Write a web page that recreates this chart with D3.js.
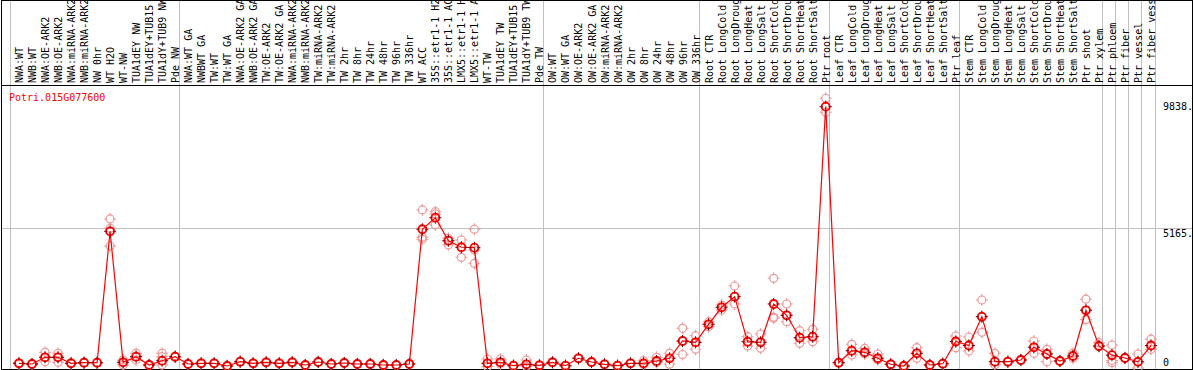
<!DOCTYPE html>
<html>
<head>
<meta charset="utf-8">
<title>Potri.015G077600</title>
<script src="https://d3js.org/d3.v7.min.js"></script>
<style>
  body { margin: 0; background: #fff; }
  text { font-family: "DejaVu Sans Mono", monospace; font-size: 10px; }
</style>
</head>
<body>
<div id="chart"></div>
<script>
// sample labels, left to right
var labels = ["NWA:WT", "NWB:WT", "NWA:OE-ARK2", "NWB:OE-ARK2", "NWA:miRNA-ARK2", "NWB:miRNA-ARK2",
  "NW 0hr", "WT H2O", "WT-NW", "TUA1dEY NW", "TUA1dEY+TUB15 NW", "TUA1dY+TUB9 NW", "Pde NW",
  "NWA:WT GA", "NWBWT GA", "TW:WT", "TW:WT GA", "NWA:OE-ARK2 GA", "NWB:OE-ARK2 GA", "TW:OE-ARK2",
  "TW:OE-ARK2 GA", "NWA:miRNA-ARK2", "NWB:miRNA-ARK2", "TW:miRNA-ARK2", "TW:miRNA-ARK2",
  "TW 2hr", "TW 8hr", "TW 24hr", "TW 48hr", "TW 96hr", "TW 336hr", "WT ACC",
  "35S::etr1-1 H2O", "35S::etr1-1 ACC", "LMX5::etr1-1 H2O", "LMX5::etr1-1 ACC", "WT-TW",
  "TUA1dEY TW", "TUA1dEY+TUB15 TW", "TUA1dY+TUB9 TW", "Pde TW",
  "OW:WT", "OW:WT GA", "OW:OE-ARK2", "OW:OE-ARK2 GA", "OW:miRNA-ARK2", "OW:miRNA-ARK2",
  "OW 2hr", "OW 8hr", "OW 24hr", "OW 48hr", "OW 96hr", "OW 336hr",
  "Root CTR", "Root LongCold", "Root LongDrought", "Root LongHeat", "Root LongSalt",
  "Root ShortCold", "Root ShortDrought", "Root ShortHeat", "Root ShortSalt", "Ptr root",
  "Leaf CTR", "Leaf LongCold", "Leaf LongDrought", "Leaf LongHeat", "Leaf LongSalt",
  "Leaf ShortCold", "Leaf ShortDrought", "Leaf ShortHeat", "Leaf ShortSalt", "Ptr leaf",
  "Stem CTR", "Stem LongCold", "Stem LongDrought", "Stem LongHeat", "Stem LongSalt",
  "Stem ShortCold", "Stem ShortDrought", "Stem ShortHeat", "Stem ShortSalt", "Ptr shoot",
  "Ptr xylem", "Ptr phloem", "Ptr fiber", "Ptr vessel", "Ptr fiber vessel"];

// mean expression per sample
var means = [173, 148, 395, 395, 173, 196, 196, 5044, 210, 417, 111, 269, 417,
  148, 173, 173, 74, 232, 173, 210, 173, 210, 111, 221, 148, 185, 148, 148, 111, 111, 148,
  5118, 5546, 4697, 4454, 4439, 173, 210, 85, 137, 100,
  210, 85, 358, 221, 137, 85, 173, 173, 258, 358, 996, 948,
  1613, 2240, 2631, 970, 948, 2362, 1945, 1118, 1155, 9642,
  196, 638, 579, 358, 137, 74, 542, 111, 159, 978,
  830, 1893, 232, 232, 295, 764, 517, 258, 443, 2129,
  812, 472, 369, 229, 830];

// replicate values per sample
var replicates = [
  [190, 150, 173], [165, 130, 148], [579, 395, 232], [542, 395, 210], [190, 160, 173], [210, 180, 196],
  [205, 185, 196], [5498, 5154, 4501], [295, 210, 111], [542, 417, 295], [125, 100, 111],
  [542, 417, 111], [430, 400, 417], [160, 135, 148], [185, 160, 173], [180, 165, 173], [90, 60, 74],
  [245, 220, 232], [185, 160, 173], [220, 200, 210], [185, 160, 173], [225, 195, 210], [120, 100, 111],
  [235, 210, 221], [160, 135, 148], [200, 170, 185], [160, 135, 148], [165, 130, 148], [125, 100, 111],
  [120, 100, 111], [160, 135, 148], [5830, 4823, 4749], [5768, 5683, 5277], [4786, 4697, 4539],
  [4723, 4454, 4084], [5118, 4354, 3863], [332, 173, 48], [332, 210, 150], [100, 70, 85],
  [295, 137, 60], [115, 85, 100], [225, 195, 210], [100, 70, 85], [375, 340, 358], [235, 205, 221],
  [150, 120, 137], [100, 70, 85], [185, 160, 173], [269, 173, 120], [395, 258, 200], [542, 358, 137],
  [1465, 996, 498], [1192, 948, 690], [1700, 1613, 1524], [2325, 2240, 2140], [3026, 2631, 2362],
  [1155, 970, 812], [1255, 948, 727], [3310, 1871, 1835], [2362, 1945, 1708], [1376, 1118, 911],
  [1428, 1155, 970], [9952, 9642, 9435], [210, 180, 196], [875, 638, 480], [727, 579, 520],
  [517, 358, 300], [150, 120, 137], [90, 60, 74], [749, 542, 358], [125, 100, 111], [170, 145, 159],
  [1181, 978, 749], [1144, 830, 627], [2509, 1893, 1317], [542, 232, 120], [245, 220, 232],
  [310, 280, 295], [996, 764, 542], [690, 517, 232], [270, 245, 258], [542, 443, 358],
  [2538, 2129, 1786], [934, 812, 780], [849, 277, 196], [385, 350, 369], [517, 229, 0],
  [1063, 830, 690]];

// a gray line is drawn before these sample indexes
var groupBreaks = [0, 13, 41, 53, 63, 73, 84, 85, 86, 87, 88];
var yLabels = [9838, 5165, 0];
var geneName = "Potri.015G077600";

var W = 1194, H = 370;
var headerBottom = 85.5, plotBottom = 369.5;

var svg = d3.select("#chart").append("svg")
  .attr("width", W)
  .attr("height", H);

var x = d3.scaleBand()
  .domain(d3.range(labels.length))
  .range([10.5, 1155.5]);
function cx(i) { return x(i) + 8.5; }
function breakX(i) {
  var v = i < labels.length ? x(i) : x.range()[1];
  return Math.round(v) - 0.5;
}

var y = d3.scaleLinear()
  .domain([0, 5165])
  .range([368, 228]);

// group lines, full height
svg.selectAll("line.group")
  .data(groupBreaks)
  .enter()
  .append("line")
  .attr("x1", breakX)
  .attr("x2", breakX)
  .attr("y1", 0)
  .attr("y2", H)
  .style("stroke", "#c0c0c0");

// horizontal grid at 5165
svg.append("line")
  .attr("x1", 1)
  .attr("x2", W - 1)
  .attr("y1", Math.round(y(5165)) + 0.5)
  .attr("y2", Math.round(y(5165)) + 0.5)
  .style("stroke", "#c0c0c0");

// header labels, cut by the header box like the original
svg.append("clipPath").attr("id", "hclip")
  .append("rect").attr("x", 0).attr("y", 1).attr("width", W).attr("height", headerBottom - 1.5);

svg.append("g")
  .attr("clip-path", "url(#hclip)")
  .selectAll("text")
  .data(labels)
  .enter()
  .append("text")
  .attr("transform", function(d, i) { return "translate(" + (cx(i) + 4) + ",83) rotate(-90)"; })
  .style("fill", "#000")
  .text(function(d) { return d; });

// borders
svg.append("rect")
  .attr("x", 1.5).attr("y", 0.5)
  .attr("width", W - 3).attr("height", plotBottom - 0.5)
  .style("fill", "none").style("stroke", "#000");
svg.append("line")
  .attr("x1", 1).attr("x2", W - 1)
  .attr("y1", headerBottom).attr("y2", headerBottom)
  .style("stroke", "#000");

// gene name
svg.append("text")
  .attr("x", 9).attr("y", 101)
  .style("fill", "red")
  .text(geneName);

// y labels
svg.selectAll("text.ylab")
  .data(yLabels)
  .enter()
  .append("text")
  .attr("x", 1163)
  .attr("y", function(d) { return d == 0 ? y(0) - 2 : y(d) + 9; })
  .style("fill", "#000")
  .text(function(d) { return d == 0 ? "0" : d + "."; });

// marker: ring with small ticks
function marker(g, px, py, color, tickColor, sw) {
  g.append("circle")
    .attr("cx", px).attr("cy", py).attr("r", 4)
    .style("fill", "none").style("stroke", color).style("stroke-width", sw);
  var t = [[0, -6, 0, -3], [0, 3, 0, 6], [-6, 0, -3, 0], [3, 0, 6, 0]];
  t.forEach(function(s) {
    g.append("line")
      .attr("x1", px + s[0]).attr("y1", py + s[1])
      .attr("x2", px + s[2]).attr("y2", py + s[3])
      .style("stroke", tickColor).style("stroke-width", 1);
  });
}

// replicates
var repG = svg.append("g");
replicates.forEach(function(r, i) {
  r.forEach(function(v) {
    marker(repG, cx(i), y(v), "#ee9a9a", "#ee9a9a", 1.2);
  });
});

// mean line
var line = d3.line()
  .x(function(d, i) { return cx(i); })
  .y(function(d) { return y(d); });
svg.append("path")
  .datum(means)
  .attr("d", line)
  .style("fill", "none")
  .style("stroke", "red")
  .style("stroke-width", 1.2);

// mean markers
var meanG = svg.append("g");
means.forEach(function(v, i) {
  marker(meanG, cx(i), y(v), "red", "#800000", 1.8);
});
</script>
</body>
</html>
